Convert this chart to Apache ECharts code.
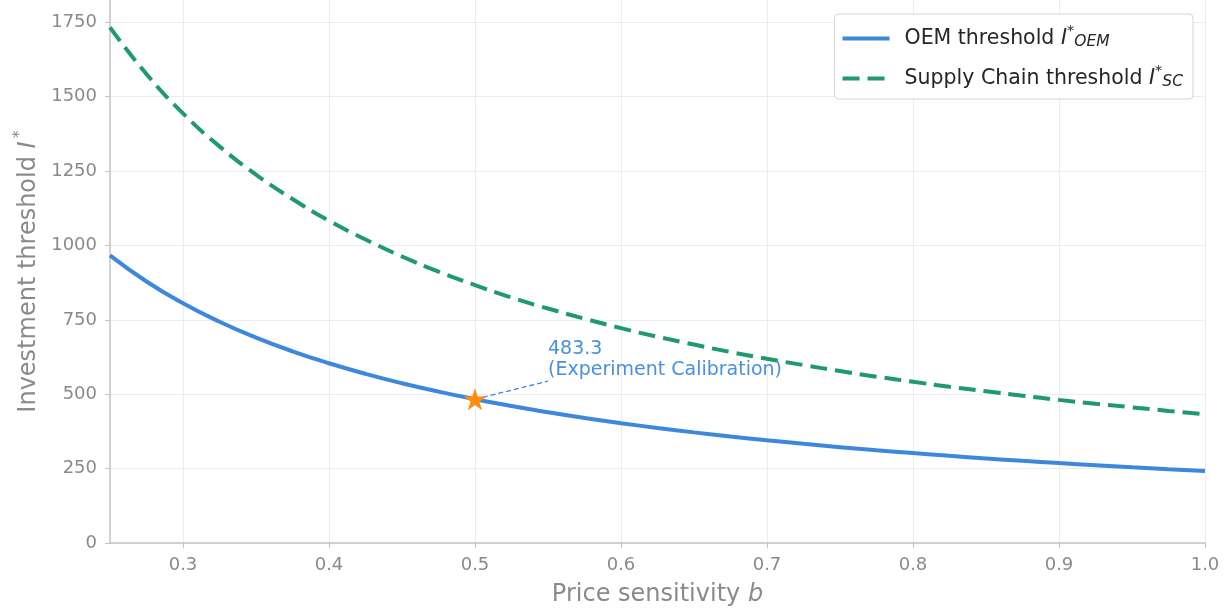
<!DOCTYPE html>
<html>
<head>
<meta charset="utf-8">
<script src="https://cdn.jsdelivr.net/npm/echarts@6/dist/echarts.min.js"></script>
<style>html,body{margin:0;padding:0;background:#fff;}#c{width:1226px;height:611px;}</style>
</head>
<body>
<div id="c"></div>
<script>
// ---- data ----
const bValues = [0.25,0.275,0.30,0.325,0.35,0.375,0.40,0.425,0.45,0.475,0.50,0.525,0.55,0.575,0.60,0.625,0.65,0.675,0.70,0.725,0.75,0.775,0.80,0.825,0.85,0.875,0.90,0.925,0.95,0.975,1.00];
const oemThreshold = [966.7,878.8,805.6,743.6,690.5,644.4,604.2,568.6,537.0,508.8,483.3,460.3,439.4,420.3,402.8,386.7,371.8,358.0,345.2,333.3,322.2,311.8,302.1,292.9,284.3,276.2,268.5,261.3,254.4,247.9,241.7];
const scThreshold = [1733,1576,1444,1333,1238,1156,1083,1020,963,912,867,825,788,754,722,693,667,642,619,598,578,559,542,525,510,495,481,468,456,444,433];
const xTicks = [0.3,0.4,0.5,0.6,0.7,0.8,0.9,1.0];
const yTicks = [0,250,500,750,1000,1250,1500,1750];
const calibB = 0.5;
const calibValue = 483.3;
const calibLabelAnchor = [0.55, 616];
const calibLineEnd = [0.55, 544];

const FONT = 'DejaVu Sans';
const blue = '#3d87dc';
const green = '#1f9a6c';
const grey = '#8a8a8a';
const dark = '#262626';

const zip = (xs, ys) => xs.map((x, i) => [x, ys[i]]);

const chart = echarts.init(document.getElementById('c'), null, {renderer: 'canvas'});
chart.setOption({
  animation: false,
  backgroundColor: '#ffffff',
  textStyle: {fontFamily: FONT},
  grid: {left: 110, right: 21, top: 0, bottom: 68, containLabel: false, outerBoundsMode: 'none'},
  legend: {
    orient: 'vertical',
    right: 33, top: 14,
    padding: [10, 10, 9, 6],
    itemWidth: 47, itemHeight: 14, itemGap: 14,
    backgroundColor: '#ffffff',
    borderColor: '#d6d6d6', borderWidth: 1, borderRadius: 4,
    itemStyle: {opacity: 0},
    lineStyle: {width: 4},
    textStyle: {
      fontFamily: FONT, fontSize: 20.5, color: dark,
      rich: {
        n: {fontFamily: FONT, fontSize: 20.5, color: dark, padding: [0, 0, 0, 10]},
        i: {fontFamily: FONT, fontSize: 20.5, fontStyle: 'italic', color: dark},
        sup: {fontFamily: FONT, fontSize: 14.5, color: dark, padding: [0, 0, 14, 0]},
        sub: {fontFamily: FONT, fontSize: 15.5, fontStyle: 'italic', color: dark, padding: [10, 0, 0, 0], verticalAlign: 'top'}
      }
    },
    formatter: function (name) {
      if (name === 'OEM') return '{n|OEM threshold }{i|I}{sup|*}{sub|OEM}';
      return '{n|Supply Chain threshold }{i|I}{sup|*}{sub|SC}';
    },
    data: ['OEM', 'SC']
  },
  xAxis: {
    type: 'value', min: 0.25, max: 1.0,
    name: '{n|Price sensitivity }{i|b}',
    nameLocation: 'middle', nameGap: 40,
    nameTextStyle: {
      fontFamily: FONT, fontSize: 24, color: grey,
      rich: {
        n: {fontFamily: FONT, fontSize: 24, color: grey},
        i: {fontFamily: FONT, fontSize: 24, fontStyle: 'italic', color: grey}
      }
    },
    axisLine: {show: true, lineStyle: {color: '#c4c4c4', width: 1.5}},
    axisTick: {show: true, length: 5, lineStyle: {color: '#c4c4c4'}, customValues: xTicks},
    axisLabel: {fontFamily: FONT, fontSize: 18, color: grey, margin: 13, customValues: xTicks,
      formatter: v => v.toFixed(1)},
    splitLine: {show: true, lineStyle: {color: '#ececec', width: 1}, customValues: xTicks}
  },
  yAxis: {
    type: 'value', min: 0, max: 1825,
    name: '{n|Investment threshold }{i|I}{sup|*}',
    nameLocation: 'middle', nameGap: 65, nameRotate: 90,
    nameTextStyle: {
      fontFamily: FONT, fontSize: 24, color: grey,
      rich: {
        n: {fontFamily: FONT, fontSize: 24, color: grey},
        i: {fontFamily: FONT, fontSize: 24, fontStyle: 'italic', color: grey},
        sup: {fontFamily: FONT, fontSize: 16, color: grey, padding: [0, 0, 17, 3]}
      }
    },
    axisLine: {show: true, lineStyle: {color: '#c4c4c4', width: 1.5}},
    axisTick: {show: true, length: 5, lineStyle: {color: '#c4c4c4'}, customValues: yTicks},
    axisLabel: {fontFamily: FONT, fontSize: 18, color: grey, margin: 13, customValues: yTicks,
      formatter: v => String(v)},
    splitLine: {show: true, lineStyle: {color: '#ececec', width: 1}, customValues: yTicks}
  },
  series: [
    {
      name: 'OEM', type: 'line', smooth: true, showSymbol: false, symbol: 'none',
      data: zip(bValues, oemThreshold),
      color: blue,
      lineStyle: {color: blue, width: 4},
      z: 3,
      markLine: {
        silent: true, symbol: 'none', animation: false,
        lineStyle: {color: blue, type: [5, 3], width: 1.3},
        label: {show: false},
        data: [[{coord: [calibB, calibValue]}, {coord: calibLineEnd}]]
      },
      markPoint: {
        silent: true, animation: false,
        data: [
          {coord: [calibB, calibValue], symbol: 'path://M0,-1 L0.2245,-0.309 L0.951,-0.309 L0.3633,0.118 L0.5878,0.809 L0,0.382 L-0.5878,0.809 L-0.3633,0.118 L-0.951,-0.309 L-0.2245,-0.309 Z',
           symbolSize: 23, symbolKeepAspect: true, itemStyle: {color: '#ff8c0f'}, label: {show: false}},
          {coord: calibLabelAnchor, symbol: 'rect', symbolSize: 0,
           label: {show: true, position: 'right', distance: 0, align: 'left',
             formatter: calibValue.toFixed(1) + '\n(Experiment Calibration)',
             fontFamily: FONT, fontSize: 19, color: '#4a8fe0', lineHeight: 21}}
        ]
      }
    },
    {
      name: 'SC', type: 'line', smooth: true, showSymbol: false, symbol: 'none',
      data: zip(bValues, scThreshold),
      color: green,
      lineStyle: {color: green, width: 4, type: [17, 8], cap: 'butt'},
      z: 2
    }
  ]
});
</script>
</body>
</html>
